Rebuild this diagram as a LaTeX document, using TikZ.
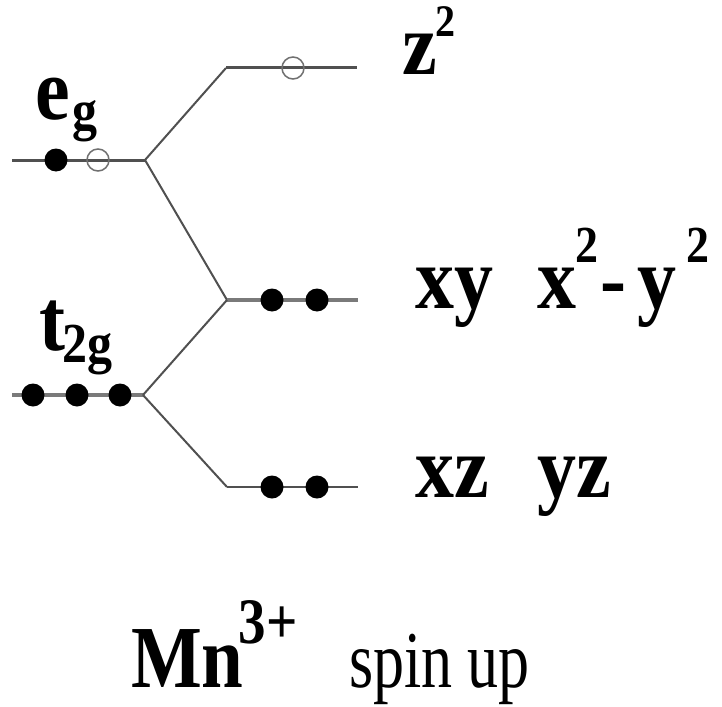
\documentclass[tikz,border=0pt]{standalone}
\usepackage{fontspec}
\setmainfont{Liberation Serif}
\usepackage{graphicx}
\definecolor{lvlgray}{HTML}{505050}
\definecolor{lightlvl}{HTML}{7A7A7A}
\definecolor{ringgray}{HTML}{707070}
\newcommand\lfs[1]{\fontsize{#1}{#1}\selectfont}
\tikzset{
  lvl/.style={line width=3pt, draw=lvlgray},
  lvllight/.style={line width=3.5pt, draw=lightlvl},
  lvlthin/.style={line width=2.5pt, draw=lvlgray},
  conn/.style={line width=2pt, draw=lvlgray},
  full/.style={circle, fill=black, minimum size=23pt, inner sep=0pt},
  hollow/.style={circle, draw=ringgray, line width=1.5pt, minimum size=22pt, inner sep=0pt},
  lbl/.style={anchor=base west, inner sep=0pt, outer sep=0pt},
}
\begin{document}
\begin{tikzpicture}[x=1pt,y=-1pt]
\useasboundingbox (0,0) rectangle (722,706);
% level coordinates
\coordinate (egL) at (12,160);
\coordinate (egB) at (145,160);
\coordinate (zC) at (226,68);
\coordinate (zR) at (357,68);
\coordinate (xyC) at (227,300);
\coordinate (xyR) at (358,300);
\coordinate (tL) at (12,395);
\coordinate (tB) at (143,395);
\coordinate (xzC) at (227,487);
\coordinate (xzR) at (358,487);
% lines
\draw[lvl] (egL) -- (egB);
\draw[conn] (egB) -- (zC);
\draw[lvl] (zC) -- (zR);
\draw[conn] (egB) -- (xyC);
\draw[lvllight] (xyC) -- (xyR);
\draw[lvllight] (tL) -- (tB);
\draw[conn] (tB) -- (xyC);
\draw[conn] (tB) -- (xzC);
\draw[lvlthin] (xzC) -- (xzR);
% electrons
\node[full] (e1) at (56,160) {};
\node[hollow] (e2) at (98,160) {};
\node[hollow] (z1) at (293,68) {};
\node[full] (xy1) at (272,300) {};
\node[full] (xy2) at (317,300) {};
\node[full] (t1) at (33,395) {};
\node[full] (t2) at (77,395) {};
\node[full] (t3) at (120,395) {};
\node[full] (xz1) at (272,487) {};
\node[full] (xz2) at (317,487) {};
% labels
\node[lbl] (lz2) at (402,75) {\scalebox{1}[1.13]{\bfseries\lfs{78}z\kern-1pt\raisebox{34pt}{\lfs{40}2}}};
\node[lbl] (lxy) at (415,308) {\scalebox{1}[1.13]{\bfseries\lfs{78}xy}};
\node[lbl] (lx2y2) at (537,308) {\scalebox{1}[1.13]{\bfseries\lfs{78}x\kern-1pt\raisebox{40pt}{\lfs{46}2}\kern2pt-\kern12pt y\kern10pt\raisebox{40pt}{\lfs{46}2}}};
\node[lbl] (lxz) at (415,497) {\scalebox{1}[1.13]{\bfseries\lfs{78}xz}};
\node[lbl] (lyz) at (537,497) {\scalebox{1}[1.13]{\bfseries\lfs{78}yz}};
\node[lbl] (leg) at (35,119) {\scalebox{1}[1.13]{\bfseries\lfs{78}e\kern3pt\raisebox{-9pt}{\lfs{50}g}}};
\node[lbl] (lt2g) at (39,350) {\scalebox{1}[1.13]{\bfseries\lfs{78}t\kern-2pt\raisebox{-11.5pt}{\lfs{50}2g}}};
\node[lbl] (lmn) at (131,687) {\scalebox{1}[1.18]{\bfseries\lfs{75}Mn\kern-5pt\raisebox{37pt}{\lfs{55}3+}}};
\node[lbl] (lspin) at (349,687) {\scalebox{1}[1.3]{\lfs{62}spin up}};
\end{tikzpicture}
\end{document}
